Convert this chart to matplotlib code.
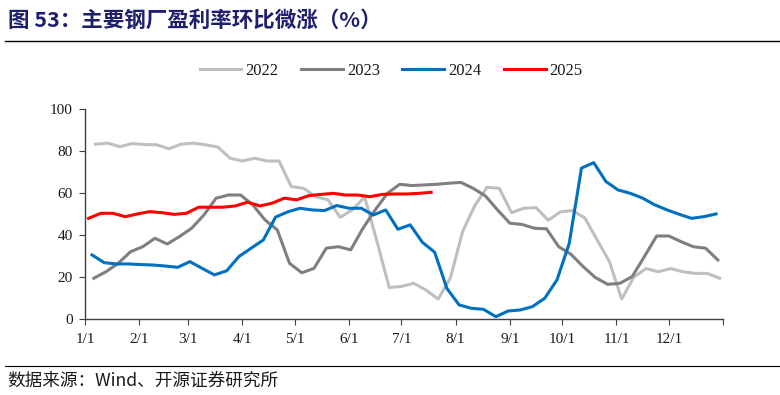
import matplotlib
matplotlib.use("Agg")
import matplotlib.pyplot as plt
import numpy as np

# weekly profitability of major steel mills, %
years = ["2022", "2023", "2024", "2025"]
first_week = ["2022-01-07", "2023-01-06", "2024-01-05", "2025-01-03"]

y2022 = [83.2, 83.7, 82.0, 83.5, 83.0, 82.9, 81.0, 83.2, 83.7, 82.9,
         81.8, 76.5, 75.2, 76.5, 75.2, 75.2, 63.0, 62.2, 58.2, 56.7,
         48.4, 52.0, 58.0, 37.0, 15.0, 15.5, 17.0, 13.8, 9.5, 19.5,
         41.6, 54.0, 62.7, 62.2, 50.6, 52.7, 53.0, 47.0, 51.0, 51.6,
         48.0, 37.6, 27.3, 9.5, 20.0, 24.0, 22.5, 24.0, 22.5, 21.7,
         21.7, 19.4]
y2023 = [19.4, 22.5, 26.5, 32.0, 34.4, 38.4, 35.7, 39.2, 43.2, 49.5,
         57.5, 59.0, 59.0, 54.3, 47.1, 42.4, 26.5, 22.0, 24.1, 33.7,
         34.4, 32.9, 43.2, 51.9, 59.8, 64.1, 63.5, 63.8, 64.1, 64.6,
         65.0, 62.2, 58.6, 51.9, 45.6, 45.0, 43.2, 42.9, 34.4, 30.8,
         24.9, 19.7, 16.5, 17.0, 20.2, 29.7, 39.5, 39.5, 36.8, 34.4,
         33.7, 28.1]
y2024 = [30.5, 26.8, 26.2, 26.2, 25.9, 25.7, 25.2, 24.6, 27.3, 24.1,
         21.0, 22.9, 29.7, 33.7, 37.6, 48.5, 51.0, 52.7, 51.9, 51.6,
         54.0, 52.7, 52.7, 49.5, 51.9, 42.7, 44.8, 36.5, 31.8, 14.6,
         6.7, 5.1, 4.6, 1.1, 3.8, 4.3, 5.9, 9.9, 18.6, 36.0,
         71.8, 74.4, 65.4, 61.4, 59.8, 57.5, 54.3, 51.9, 49.8, 47.9,
         48.7, 50.0]
y2025 = [47.9, 50.3, 50.3, 48.7, 50.0, 51.1, 50.6, 49.8, 50.3, 53.2,
         53.2, 53.2, 53.8, 55.6, 53.8, 55.1, 57.5, 56.7, 58.7, 59.3,
         59.8, 59.0, 59.0, 58.2, 59.3, 59.5, 59.5, 59.8, 60.3]
series = [y2022, y2023, y2024, y2025]
colors = ["#BFBFBF", "#7F7F7F", "#0070C0", "#FF0000"]

month_labels = ["%d/1" % m for m in range(1, 13)]

title = "图 53：主要钢厂盈利率环比微涨（%）"
source = "数据来源：Wind、开源证券研究所"

SERIF = ["Liberation Serif", "Noto Sans CJK SC", "DejaVu Sans"]
CJK = ["Noto Sans CJK SC", "Liberation Serif", "DejaVu Sans"]


def day_of_year(dates):
    dates = np.asarray(dates, dtype="datetime64[D]")
    return (dates - dates.astype("datetime64[Y]").astype("datetime64[D]")).astype(int)


def main():
    fig = plt.figure(figsize=(7.8, 3.95), dpi=100)
    ax = fig.add_axes([0.109, 0.1924, 0.818, 0.532])

    for name, start, vals, col in zip(years, first_week, series, colors):
        weeks = np.datetime64(start) + 7 * np.arange(len(vals))
        ax.plot(day_of_year(weeks), vals, color=col, lw=2.2, label=name,
                solid_joinstyle="round")

    month_starts = day_of_year(np.arange("2023-01", "2024-01", dtype="datetime64[M]"))
    ax.set_xlim(0, 365)
    ax.set_xticks(list(month_starts) + [365])
    ax.set_xticklabels(month_labels + [""], family=SERIF, fontsize=11)
    ax.set_ylim(0, 100)
    ax.set_yticks(range(0, 101, 20))
    ax.set_yticklabels([str(v) for v in range(0, 101, 20)], family=SERIF, fontsize=11)

    for side in ["top", "right"]:
        ax.spines[side].set_visible(False)
    for side in ["left", "bottom"]:
        ax.spines[side].set_color("#404040")
        ax.spines[side].set_linewidth(1.0)
    ax.tick_params(axis="both", direction="out", length=4, color="#404040",
                   labelcolor="#1a1a1a")
    ax.tick_params(axis="x", pad=6)
    ax.tick_params(axis="y", pad=5)

    leg = ax.legend(loc="lower center", bbox_to_anchor=(0.48, 1.07), ncol=4,
                    frameon=False, handlelength=2.5, columnspacing=1.35,
                    handletextpad=0.25, prop={"family": SERIF, "size": 12})
    for t in leg.get_texts():
        t.set_color("#1a1a1a")

    fig.text(0.010, 0.948, title, family=CJK, fontsize=15.5, fontweight="bold",
             color="#1F1F70", va="center", ha="left")
    fig.add_artist(plt.Line2D([0.006, 1.0], [0.897, 0.897], color="black", lw=1.0))
    fig.add_artist(plt.Line2D([0.006, 1.0], [0.073, 0.073], color="black", lw=0.8))
    fig.text(0.010, 0.037, source, family=CJK, fontsize=12.7, color="#1a1a1a",
             va="center", ha="left")

    fig.savefig("out.png", dpi=100)


if __name__ == "__main__":
    main()
